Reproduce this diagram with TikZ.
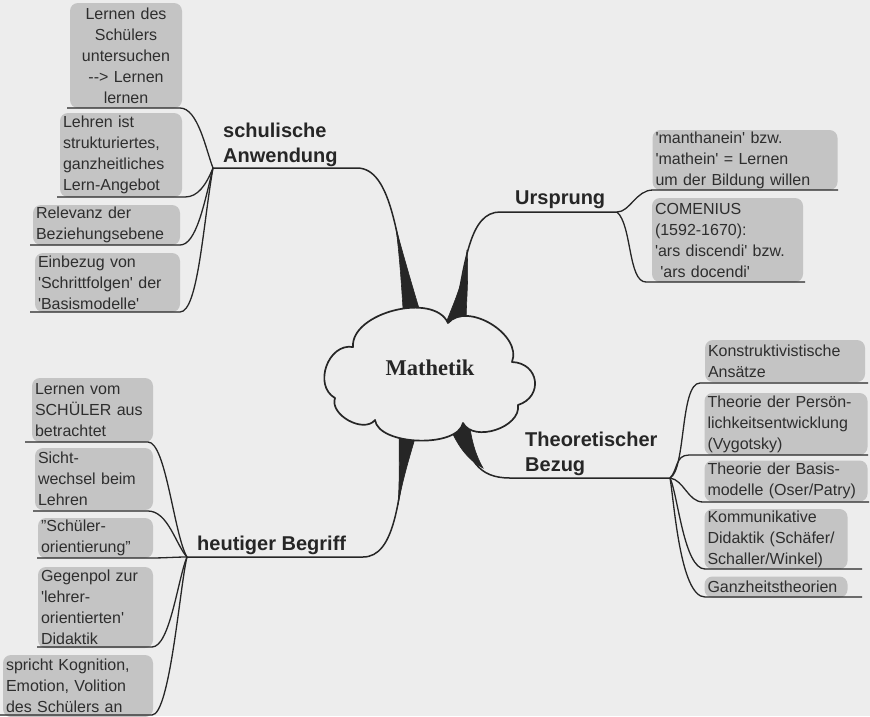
\documentclass[tikz,border=0pt]{standalone}
\usepackage{fontspec}
\setmainfont{Liberation Sans}
\newfontfamily\serifbold{Liberation Serif}
\newcommand\qq{\textquotesingle}
\definecolor{bg}{HTML}{EDEDED}
\definecolor{boxfill}{HTML}{C4C4C4}
\definecolor{ink}{HTML}{262626}
\definecolor{txt}{HTML}{2E2E2E}
\tikzset{
  leaf/.style={fill=boxfill, rounded corners=8pt, draw=none, inner xsep=3pt, inner ysep=0pt,
    text=txt, font=\fontsize{16}{21}\selectfont, align=left},
  topic/.style={anchor=west, inner sep=0pt, text=ink, font=\fontsize{20}{25}\selectfont\bfseries, align=left},
  uline/.style={draw=ink, line width=1.3pt},
  mainline/.style={draw=ink, line width=1.5pt},
  taper/.style={fill=ink, draw=ink, line width=0.6pt},
  puff/.style={bend left=80, looseness=#1},
}
\begin{document}
\begin{tikzpicture}[x=1pt,y=-1pt]
\fill[bg] (0,0) rectangle (870,716);
\useasboundingbox (0,0) rectangle (870,716);

% ---------- hubs and branch ends ----------
\coordinate (H1) at (213,168);
\coordinate (H2) at (617,212);
\coordinate (H3) at (670,478);
\coordinate (H4) at (187,557);
\coordinate (E1) at (357,168);
\coordinate (E2) at (500,212);
\coordinate (E3) at (510,478);
\coordinate (E4) at (363,557);

% ---------- main branches (behind cloud) ----------
\draw[mainline] (H1) -- (E1) .. controls (392,168) and (398,240) .. (412,318);
\fill[taper] (396,228) .. controls (400,260) and (402,292) .. (404,325) -- (424,325) .. controls (414,292) and (404,258) .. (396,228) -- cycle;

\draw[mainline] (H2) -- (E2) .. controls (470,212) and (465,260) .. (454,322);
\fill[taper] (467,250) .. controls (465,280) and (454,302) .. (444,328) -- (466,328) .. controls (466,300) and (469,280) .. (467,250) -- cycle;

\draw[mainline] (H3) -- (E3) .. controls (478,478) and (468,460) .. (458,420);
\fill[taper] (447,420) -- (469,420) .. controls (471,440) and (476,456) .. (483,468) .. controls (468,460) and (456,445) .. (447,420) -- cycle;

\draw[mainline] (H4) -- (E4) .. controls (395,557) and (400,500) .. (408,425);
\fill[taper] (398,505) .. controls (400,475) and (399,452) .. (399,425) -- (419,425) .. controls (410,455) and (403,478) .. (398,505) -- cycle;

% ---------- centre cloud ----------
\coordinate (N1) at (353,347);
\coordinate (N2) at (448,323);
\coordinate (N3) at (512,362);
\coordinate (N4) at (518,405);
\coordinate (N5) at (463,423);
\coordinate (N6) at (375,420);
\coordinate (N7) at (335,398);
\draw[draw=ink, fill=bg, line width=1.7pt, line join=round]
  (N1) to[puff=0.9] (N2) to[puff=1.0] (N3) to[puff=1.6] (N4) to[puff=1.0] (N5)
       to[puff=0.75] (N6) to[puff=1.0] (N7) to[puff=1.2] (N1) -- cycle;
\node[font=\serifbold\fontsize{22.5}{26}\selectfont\bfseries, text=ink, inner sep=0pt] (c) at (430,368) {Mathetik};

% ---------- topic labels ----------
\node[topic] (tS) at (223,145) {schulische\\Anwendung};
\node[topic] (tU) at (515,200) {Ursprung};
\node[topic] (tT) at (525,454) {Theoretischer\\Bezug};
\node[topic] (tH) at (197,545) {heutiger Begriff};

% ---------- schulische Anwendung ----------
\node[leaf, align=center, minimum width=112pt, minimum height=105pt, text width=106pt] (b1) at (126,55.5)
  {Lernen des\\Schülers\\untersuchen\\\mbox{-}\mbox{-}> Lernen\\lernen};
\node[leaf, minimum height=84pt, text width=116pt] (b2) at (121,155) {Lehren ist\\strukturiertes,\\ganzheitliches\\Lern-Angebot};
\node[leaf, minimum height=40pt, text width=141pt] (b3) at (106.5,225) {Relevanz der\\Beziehungsebene};
\node[leaf, minimum height=59pt, text width=139pt] (b4) at (107.5,282.5) {Einbezug von\\\qq Schrittfolgen\qq{} der\\\qq Basismodelle\qq};
\coordinate (b1l) at (67,108);  \coordinate (b1r) at (180,108);
\coordinate (b2l) at (57,197);  \coordinate (b2r) at (185,197);
\coordinate (b3l) at (30,245);  \coordinate (b3r) at (180,245);
\coordinate (b4l) at (30,312);  \coordinate (b4r) at (180,312);
\draw[uline] (b1l) -- (b1r) .. controls (198,108) and (206,150) .. (H1);
\draw[uline] (b2l) -- (b2r) .. controls (198,197) and (206,185) .. (H1);
\draw[uline] (b3l) -- (b3r) .. controls (196,245) and (204,205) .. (H1);
\draw[uline] (b4l) -- (b4r) .. controls (198,312) and (203,225) .. (H1);

% ---------- Ursprung ----------
\node[leaf, minimum height=60pt, text width=179pt] (u1) at (745,160) {\qq manthanein\qq{} bzw.\\\qq mathein\qq{} = Lernen\\um der Bildung willen};
\node[leaf, minimum height=84pt, text width=145pt] (u2) at (727.5,240) {COMENIUS\\(1592-1670):\\\qq ars discendi\qq{} bzw.\\\ \qq ars docendi\qq};
\coordinate (u1l) at (653,190);  \coordinate (u1r) at (838,190);
\coordinate (u2l) at (646,282);  \coordinate (u2r) at (805,282);
\draw[uline] (H2) .. controls (630,212) and (636,190) .. (u1l) -- (u1r);
\draw[uline] (H2) .. controls (632,225) and (628,282) .. (u2l) -- (u2r);

% ---------- Theoretischer Bezug ----------
\node[leaf, minimum height=42pt, text width=154pt] (t1) at (785,361) {Konstruktivistische\\Ansätze};
\node[leaf, minimum height=62pt, text width=157pt] (t2) at (786,424) {Theorie der Persön-\\lichkeitsentwicklung\\(Vygotsky)};
\node[leaf, minimum height=41pt, text width=157pt] (t3) at (786,481) {Theorie der Basis-\\modelle (Oser/Patry)};
\node[leaf, minimum height=60pt, text width=137pt] (t4) at (776,539) {Kommunikative\\Didaktik (Schäfer/\\Schaller/Winkel)};
\node[leaf, minimum height=21pt, text width=137pt] (t5) at (776,587) {Ganzheitstheorien};
\coordinate (t1l) at (700,383);  \coordinate (t1r) at (868,383);
\coordinate (t2l) at (689,455);  \coordinate (t2r) at (868,455);
\coordinate (t3l) at (703,502);  \coordinate (t3r) at (869,502);
\coordinate (t4l) at (705,569);  \coordinate (t4r) at (862,569);
\coordinate (t5l) at (705,597);  \coordinate (t5r) at (862,597);
\draw[uline] (H3) .. controls (686,470) and (680,383) .. (t1l) -- (t1r);
\draw[uline] (H3) .. controls (678,470) and (675,455) .. (t2l) -- (t2r);
\draw[uline] (H3) .. controls (684,480) and (688,502) .. (t3l) -- (t3r);
\draw[uline] (H3) .. controls (678,495) and (684,569) .. (t4l) -- (t4r);
\draw[uline] (H3) .. controls (674,500) and (680,597) .. (t5l) -- (t5r);

% ---------- heutiger Begriff ----------
\node[leaf, minimum height=64pt, text width=115pt] (h1) at (92.5,410) {Lernen vom\\SCHÜLER aus\\betrachtet};
\node[leaf, minimum height=62pt, text width=112pt] (h2) at (94,479) {Sicht-\\wechsel beim\\Lehren};
\node[leaf, minimum height=40pt, text width=109pt] (h3) at (95.5,538) {"Schüler-\\orientierung"};
\node[leaf, minimum height=81pt, text width=109pt] (h4) at (95.5,607.5) {Gegenpol zur\\\qq lehrer-\\orientierten\qq\\Didaktik};
\node[leaf, minimum height=62pt, text width=144pt] (h5) at (78,686) {spricht Kognition,\\Emotion, Volition\\des Schülers an};
\coordinate (h1l) at (25,442);  \coordinate (h1r) at (148,442);
\coordinate (h2l) at (33,511);  \coordinate (h2r) at (148,511);
\coordinate (h3l) at (37,558);  \coordinate (h3r) at (150,558);
\coordinate (h4l) at (37,647);  \coordinate (h4r) at (152,647);
\coordinate (h5l) at (0,715);   \coordinate (h5r) at (152,715);
\draw[uline] (h1l) -- (h1r) .. controls (166,442) and (174,535) .. (H4);
\draw[uline] (h2l) -- (h2r) .. controls (168,511) and (176,545) .. (H4);
\draw[uline] (h3l) -- (h3r) .. controls (165,558) and (175,557) .. (H4);
\draw[uline] (h4l) -- (h4r) .. controls (170,647) and (178,578) .. (H4);
\draw[uline] (h5l) -- (h5r) .. controls (170,715) and (180,585) .. (H4);
\end{tikzpicture}
\end{document}
